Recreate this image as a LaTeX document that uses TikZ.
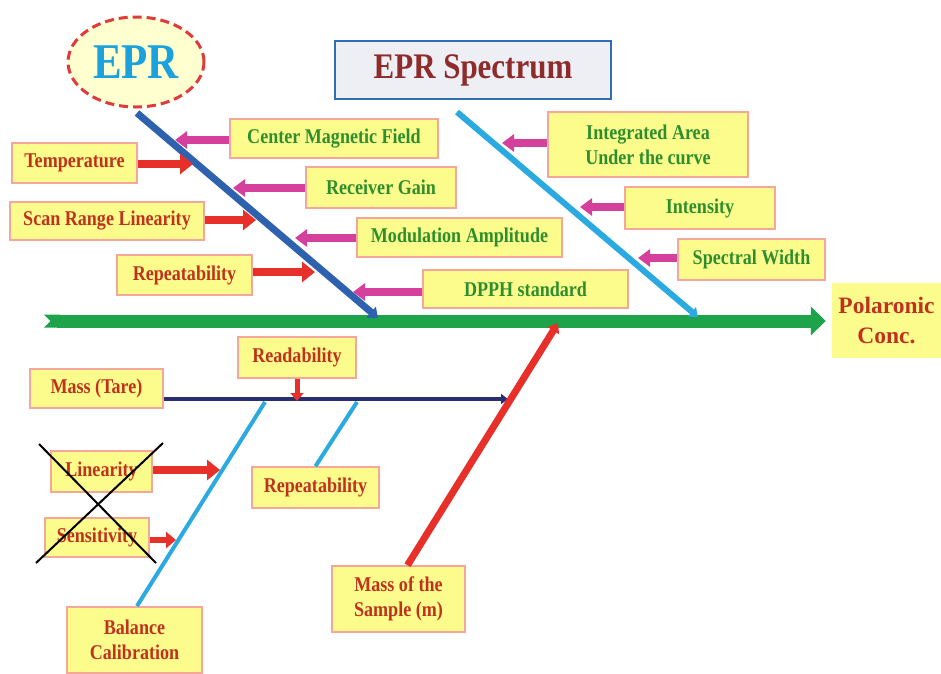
\documentclass[tikz,border=0pt]{standalone}
\usepackage{fontspec}
\setmainfont{Liberation Serif}
\newfontfamily\cf{Liberation Serif}[FakeStretch=0.86]
\usetikzlibrary{arrows.meta,shapes.geometric}
\definecolor{yel}{HTML}{FCFC8C}
\definecolor{pinkb}{HTML}{F5A89A}
\definecolor{redtxt}{HTML}{C0321E}
\definecolor{grntxt}{HTML}{2E8E2E}
\definecolor{magarr}{HTML}{D4409C}
\definecolor{redarr}{HTML}{E8302A}
\definecolor{bluebone}{HTML}{2F62AE}
\definecolor{cyanbone}{HTML}{2AAAE0}
\definecolor{spinegreen}{HTML}{1DA34A}
\definecolor{navyl}{HTML}{2A2D6E}
\definecolor{specred}{HTML}{8E2B2B}
\definecolor{specblue}{HTML}{2E6EB5}
\definecolor{specfill}{HTML}{EDEFF4}
\definecolor{eprcyan}{HTML}{1BA1DB}
\definecolor{eprred}{HTML}{E03A3A}
\definecolor{eprfill}{HTML}{FFFFD0}
\begin{document}
\begin{tikzpicture}[x=1pt,y=-1pt,
  lbl/.style={draw=pinkb, line width=1.6pt, fill=yel, inner sep=0pt, align=center,
    font=\cf\bfseries\fontsize{21}{25}\selectfont},
  redlbl/.style={lbl, text=redtxt},
  grnlbl/.style={lbl, text=grntxt},
  sz/.style 2 args={minimum width=#1pt, minimum height=#2pt},
  redarrow/.style={draw=redarr, line width=8pt, -{Triangle[length=13pt,width=20pt]}},
  magarrow/.style={draw=magarr, line width=8pt, -{Triangle[length=12pt,width=17pt]}},
  smallred/.style={draw=redarr, line width=6pt, -{Triangle[length=10pt,width=16pt]}},
  crossline/.style={draw=black, line width=2pt},
]
\useasboundingbox (0,0) rectangle (941,673);
\fill[white] (0,0) rectangle (941,673);

% title nodes
\node[ellipse, draw=eprred, fill=eprfill, line width=3pt, dash pattern=on 9pt off 5pt,
  minimum width=136pt, minimum height=90pt, inner sep=0pt, text=eprcyan,
  font=\cf\bfseries\fontsize{50}{52}\selectfont] (epr) at (136,62) {EPR};
\node[draw=specblue, line width=2.5pt, fill=specfill, sz={276}{58}, inner sep=0pt,
  text=specred, font=\cf\bfseries\fontsize{36}{40}\selectfont] (spec) at (473,70) {EPR Spectrum};

% upper left labels
\node[redlbl, sz={125}{40}] (temp) at (74.5,163) {Temperature};
\node[redlbl, sz={194}{38}] (scan) at (107,221) {Scan Range Linearity};
\node[redlbl, sz={135}{40}] (repu) at (184.5,275) {Repeatability};
\node[grnlbl, sz={208}{39}] (cmf) at (334,138.5) {Center Magnetic Field};
\node[grnlbl, sz={150}{41}] (rg) at (381,187.5) {Receiver Gain};
\node[grnlbl, sz={205}{39}] (mod) at (459.5,237.5) {Modulation Amplitude};
\node[grnlbl, sz={205}{38}] (dpph) at (525.5,289) {DPPH standard};

% upper right labels
\node[grnlbl, sz={200}{65}] (ia) at (648,144.5) {Integrated Area\\Under the curve};
\node[grnlbl, sz={150}{42}] (int) at (700,208) {Intensity};
\node[grnlbl, sz={147}{41}] (sw) at (751.5,259.5) {Spectral Width};

% effect
\node[fill=yel, sz={109}{75}, inner sep=0pt, align=center, text=redtxt,
  font=\bfseries\fontsize{23.5}{30}\selectfont] (pol) at (886.5,320.5) {Polaronic\\Conc.};

% lower labels
\node[redlbl, sz={118}{41}] (read) at (297,357.5) {Readability};
\node[redlbl, sz={133}{39}] (tare) at (96.5,388.5) {Mass (Tare)};
\node[redlbl, sz={101}{41}] (lin) at (101.5,471.5) {Linearity};
\node[redlbl, sz={127}{41}] (repb) at (315.5,487.5) {Repeatability};
\node[redlbl, sz={104}{39}] (sens) at (97,537.5) {Sensitivity};
\node[redlbl, sz={135}{66}] (bal) at (134.5,640) {Balance\\Calibration};
\node[redlbl, sz={133}{66}] (mos) at (398.5,599) {Mass of the\\Sample (m)};

% coordinates
\coordinate (b1s) at (137,113);
\coordinate (b1e) at (378,318);
\coordinate (b2s) at (457,112);
\coordinate (b2e) at (698,317);
\coordinate (spl) at (44,321);
\coordinate (t1) at (193,164);
\coordinate (t2) at (256,220);
\coordinate (t3) at (315,272);
\coordinate (m1) at (175,140);
\coordinate (m2) at (233,188);
\coordinate (m3) at (295,238);
\coordinate (m4) at (353,292);
\coordinate (r1) at (502,143);
\coordinate (r2) at (580,207);
\coordinate (r3) at (638,258);
\coordinate (nve) at (508,399);
\coordinate (rdt) at (297,401);
\coordinate (cb1) at (137,606);
\coordinate (ct1) at (265,402);
\coordinate (ct2) at (357,402);
\coordinate (rtip) at (558,323);
\coordinate (la) at (220,470);
\coordinate (sa) at (176,540);
\coordinate (xa1) at (39,444);
\coordinate (xa2) at (156,563);
\coordinate (xb1) at (163,443);
\coordinate (xb2) at (36,563);

% spine
\draw[draw=spinegreen, line width=13pt, {Triangle Cap[reversed]}-{Triangle[length=15pt,width=28pt]},
  shorten >=6pt] (spl) -- (pol.west|-spl);

% bones
\draw[draw=bluebone, line width=7pt, -{Triangle[length=9pt,width=14pt]}] (b1s) -- (b1e);
\draw[draw=cyanbone, line width=6pt, -{Triangle[length=8pt,width=12pt]}] (b2s) -- (b2e);

% cause arrows
\draw[redarrow] (temp.east|-t1) -- (t1);
\draw[redarrow] (scan.east|-t2) -- (t2);
\draw[redarrow] (repu.east|-t3) -- (t3);
\draw[magarrow] (cmf.west|-m1) -- (m1);
\draw[magarrow] (rg.west|-m2) -- (m2);
\draw[magarrow] (mod.west|-m3) -- (m3);
\draw[magarrow] (dpph.west|-m4) -- (m4);
\draw[magarrow] (ia.west|-r1) -- (r1);
\draw[magarrow] (int.west|-r2) -- (r2);
\draw[magarrow] (sw.west|-r3) -- (r3);

% lower branch
\draw[draw=navyl, line width=3.5pt, -{Triangle[length=7pt,width=10pt]}] (tare.east|-nve) -- (nve);
\draw[draw=redarr, line width=5pt, -{Triangle[length=8pt,width=13pt]}] (read.south) -- (rdt);
\draw[draw=cyanbone, line width=4pt] (cb1) -- (ct1);
\draw[draw=cyanbone, line width=4pt] (repb.north) -- (ct2);
\draw[draw=redarr, line width=7pt, -{Triangle[length=9pt,width=13pt]}] ([xshift=9pt]mos.north) -- (rtip);
\draw[redarrow] (lin.east|-la) -- (la);
\draw[smallred] (sens.east|-sa) -- (sa);

% cross-out
\draw[crossline] (xa1) -- (xa2);
\draw[crossline] (xb1) -- (xb2);
\end{tikzpicture}
\end{document}
